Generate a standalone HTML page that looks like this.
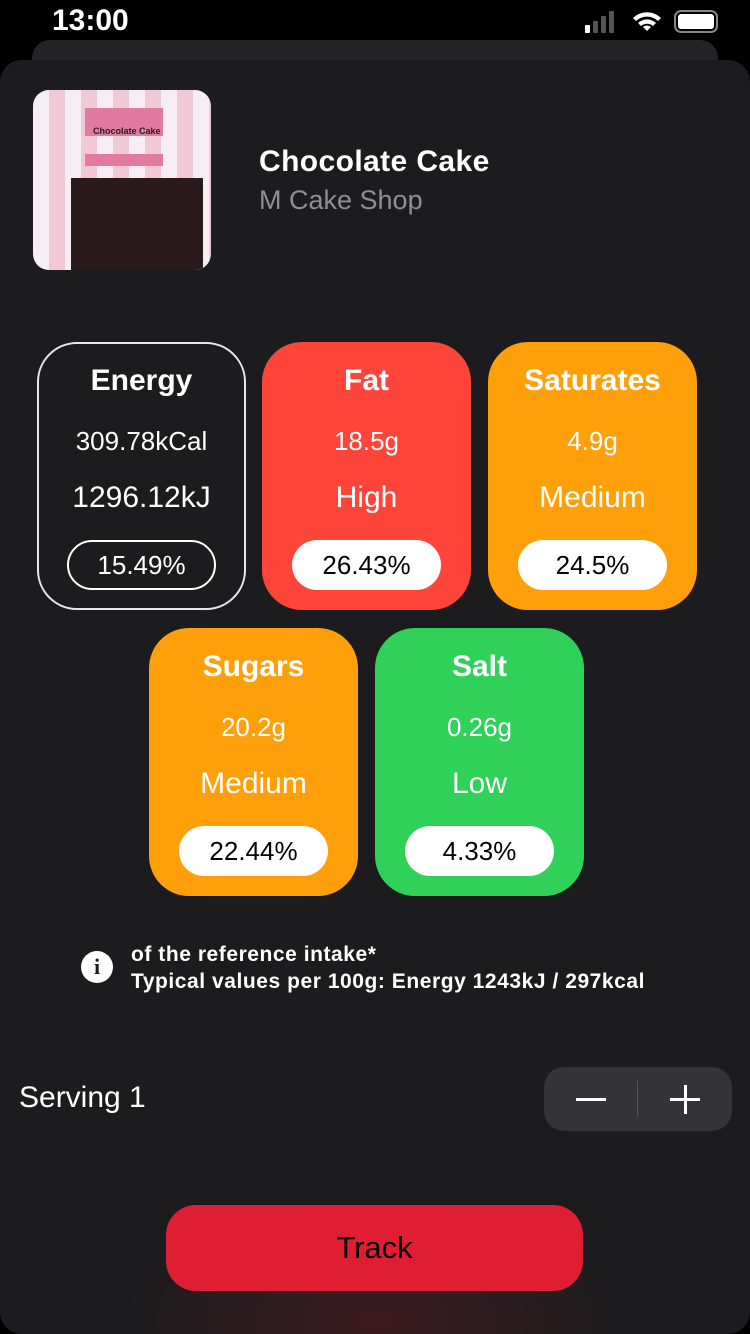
<!DOCTYPE html>
<html style="width:750px;height:1334px;overflow:hidden"><head><meta charset="utf-8">
<style>
*{margin:0;padding:0;box-sizing:border-box}
body{width:750px;height:1334px;background:#000;position:relative;overflow:hidden;font-family:"Liberation Sans",sans-serif;color:#fff}
.abs{position:absolute}
.card{position:absolute;width:209px;height:268px;border-radius:40px;text-align:center}
.card .t{position:absolute;left:0;right:0;top:22px;font-size:30px;font-weight:bold}
.card .a{position:absolute;left:0;right:0;top:84px;font-size:26px}
.card .b{position:absolute;left:0;right:0;top:139px;font-size:30px}
.card .p{position:absolute;left:30px;width:149px;top:198px;height:50px;border-radius:25px;background:#fff;color:#000;font-size:26px;line-height:50px}
</style></head><body>
<div class="abs" style="left:52px;top:4px;font-size:30px;font-weight:bold">13:00</div>
<svg class="abs" style="left:585px;top:8px" width="135" height="30">
<rect x="0" y="17" width="5" height="8" rx="1" fill="#fff"/><rect x="8" y="13" width="5" height="12" rx="1" fill="#555"/><rect x="16" y="8" width="5" height="17" rx="1" fill="#555"/><rect x="24" y="3" width="5" height="22" rx="1" fill="#555"/>
<path d="M62 23 l-4 -4 a6 6 0 0 1 8 0z M53 15 a13 13 0 0 1 18 0 l-3 3 a9 9 0 0 0 -12 0z M48 10 a20 20 0 0 1 28 0 l-3 3 a16 16 0 0 0 -22 0z" fill="#fff"/>
<rect x="90" y="3" width="42" height="21" rx="6" fill="none" stroke="#888" stroke-width="2"/><rect x="93" y="6" width="36" height="15" rx="3" fill="#fff"/>
</svg>
<div class="abs" style="left:32px;top:40px;width:686px;height:60px;background:#242426;border-radius:18px"></div>
<div class="abs" style="left:0;top:60px;width:750px;height:1274px;background:#1c1c1e;border-radius:22px;overflow:hidden">
<div class="abs" style="left:120px;top:1130px;width:510px;height:200px;border-radius:50%;background:radial-gradient(ellipse at 50% 65%,rgba(110,28,35,0.4),rgba(28,28,30,0) 70%)"></div>
</div>
<div class="abs" style="left:33px;top:90px;width:178px;height:180px;border-radius:16px;overflow:hidden;background:repeating-linear-gradient(90deg,#f6eef2 0 16px,#f0c8d6 16px 32px)">
<div class="abs" style="left:52px;top:18px;width:78px;height:28px;background:#e07aa0"></div>
<div class="abs" style="left:60px;top:36px;font-size:9px;font-weight:bold;color:#222">Chocolate Cake</div>
<div class="abs" style="left:52px;top:64px;width:78px;height:12px;background:#e07aa0"></div>
<div class="abs" style="left:38px;top:88px;width:132px;height:92px;background:#2a1a1c"></div>
</div>
<div class="abs" style="left:259px;top:145px;font-size:30px;font-weight:bold;letter-spacing:0.4px">Chocolate Cake</div>
<div class="abs" style="left:259px;top:185px;font-size:27px;color:#8e8e93">M Cake Shop</div>

<div class="card" style="left:37px;top:342px;border:2px solid #e5e5ea">
<div class="t" style="top:20px">Energy</div><div class="a" style="top:82px">309.78kCal</div><div class="b" style="top:137px">1296.12kJ</div>
<div class="p" style="background:none;border:2px solid #fff;color:#fff;top:196px;left:28px;line-height:46px">15.49%</div></div>
<div class="card" style="left:262px;top:342px;background:#ff453a">
<div class="t">Fat</div><div class="a">18.5g</div><div class="b">High</div><div class="p">26.43%</div></div>
<div class="card" style="left:488px;top:342px;background:#ff9f0a">
<div class="t">Saturates</div><div class="a">4.9g</div><div class="b">Medium</div><div class="p">24.5%</div></div>
<div class="card" style="left:149px;top:628px;background:#ff9f0a">
<div class="t">Sugars</div><div class="a">20.2g</div><div class="b">Medium</div><div class="p">22.44%</div></div>
<div class="card" style="left:375px;top:628px;background:#30d158">
<div class="t">Salt</div><div class="a">0.26g</div><div class="b">Low</div><div class="p">4.33%</div></div>

<div class="abs" style="left:81px;top:951px;width:32px;height:32px;border-radius:50%;background:#fff;color:#1c1c1e;font-weight:bold;font-size:22px;text-align:center;line-height:32px;font-family:'Liberation Serif',serif">i</div>
<div class="abs" style="left:131px;top:941px;font-size:21px;font-weight:bold;line-height:27px;letter-spacing:0.55px;white-space:nowrap">of the reference intake*<br>Typical values per 100g: Energy 1243kJ / 297kcal</div>

<div class="abs" style="left:19px;top:1081px;font-size:30px">Serving 1</div>
<div class="abs" style="left:544px;top:1067px;width:188px;height:64px;border-radius:20px;background:#333338">
<div class="abs" style="left:93px;top:14px;width:1px;height:36px;background:#555"></div>
<div class="abs" style="left:32px;top:31px;width:30px;height:3px;background:#fff"></div>
<div class="abs" style="left:126px;top:31px;width:30px;height:3px;background:#fff"></div>
<div class="abs" style="left:140px;top:18px;width:3px;height:29px;background:#fff"></div>
</div>
<div class="abs" style="left:166px;top:1205px;width:417px;height:86px;border-radius:30px;background:#e01e33;color:#000;font-size:31px;text-align:center;line-height:86px">Track</div>
</body></html>
